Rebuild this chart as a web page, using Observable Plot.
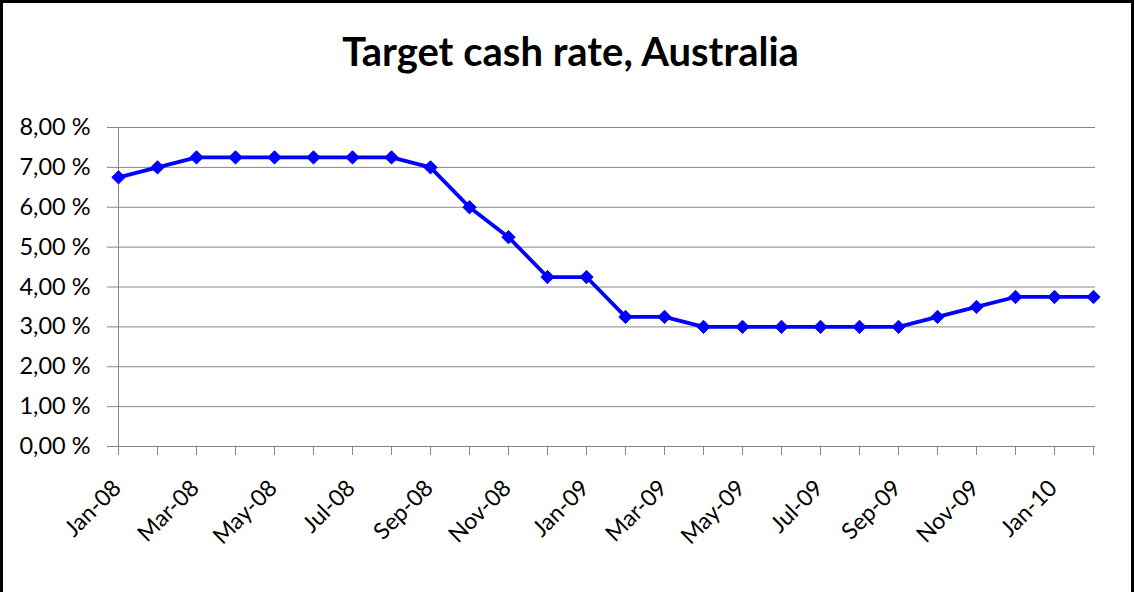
<!DOCTYPE html>
<html>
<head>
<meta charset="utf-8">
<script src="https://cdn.jsdelivr.net/npm/d3@7"></script>
<script src="https://cdn.jsdelivr.net/npm/@observablehq/plot@0.6"></script>
<style>
  html, body { margin: 0; padding: 0; background: #fff; overflow: hidden; }
  #wrap { position: relative; width: 1135px; height: 592px; }
  #border { position: absolute; left: 0px; top: 0px; width: 1128px; height: 620px; border: 3px solid #000; pointer-events: none; }
  #chart svg { display: block; }
</style>
</head>
<body>
<div id="wrap">
  <div id="chart"></div>
  <div id="border"></div>
</div>
<script>
const title = "Target cash rate, Australia";
const months = ["Jan-08","Feb-08","Mar-08","Apr-08","May-08","Jun-08","Jul-08","Aug-08","Sep-08","Oct-08","Nov-08","Dec-08",
                "Jan-09","Feb-09","Mar-09","Apr-09","May-09","Jun-09","Jul-09","Aug-09","Sep-09","Oct-09","Nov-09","Dec-09",
                "Jan-10","Feb-10"];
const rates = [6.75, 7.00, 7.25, 7.25, 7.25, 7.25, 7.25, 7.25, 7.00, 6.00, 5.25, 4.25,
               4.25, 3.25, 3.25, 3.00, 3.00, 3.00, 3.00, 3.00, 3.00, 3.25, 3.50, 3.75,
               3.75, 3.75];
const yTicks = [0, 1, 2, 3, 4, 5, 6, 7, 8];
const xLabels = months.filter((m, i) => i % 2 === 0);

const data = months.map((m, i) => ({month: m, rate: rates[i]}));
const fmt = d => d.toFixed(2).replace(".", ",") + " %";
const grey = "#868686";
const font = "Lato, 'Open Sans', sans-serif";

const chart = Plot.plot({
  width: 1135,
  height: 592,
  marginLeft: 116,
  marginRight: 40,
  marginTop: 127,
  marginBottom: 146,
  style: {fontFamily: font, color: "#000", background: "#fff"},
  x: {type: "point", domain: months, padding: 0},
  y: {domain: [0, 8]},
  marks: [
    Plot.gridY(yTicks, {stroke: grey, strokeOpacity: 1, strokeWidth: 1}),
    Plot.axisY(yTicks, {tickSize: 9, tickPadding: 17, stroke: grey, strokeOpacity: 1, tickFormat: fmt, fontSize: 23.5, label: null, fill: "#000"}),
    Plot.ruleX([months[0]], {y1: 0, y2: 8, stroke: grey}),
    Plot.ruleY([0], {stroke: grey}),
    Plot.axisX(months, {tickSize: 9, stroke: grey, strokeOpacity: 1, text: null, label: null}),
    Plot.text(xLabels, {x: d => d, frameAnchor: "bottom", rotate: -45, textAnchor: "end", lineAnchor: "bottom", dx: 4, dy: 43, fontSize: 23, fill: "#000"}),
    Plot.line(data, {x: "month", y: "rate", stroke: "#0000FF", strokeWidth: 3.8}),
    Plot.dot(data, {x: "month", y: "rate", symbol: "diamond2", r: 6, fill: "#0000FF", stroke: "#0000FF", strokeWidth: 1}),
    Plot.text([title], {frameAnchor: "top-left", dx: 454, dy: -62, lineAnchor: "bottom", textAnchor: "middle", fontSize: 40, fontWeight: "bold", fill: "#000"})
  ]
});
document.getElementById("chart").appendChild(chart);
</script>
</body>
</html>
